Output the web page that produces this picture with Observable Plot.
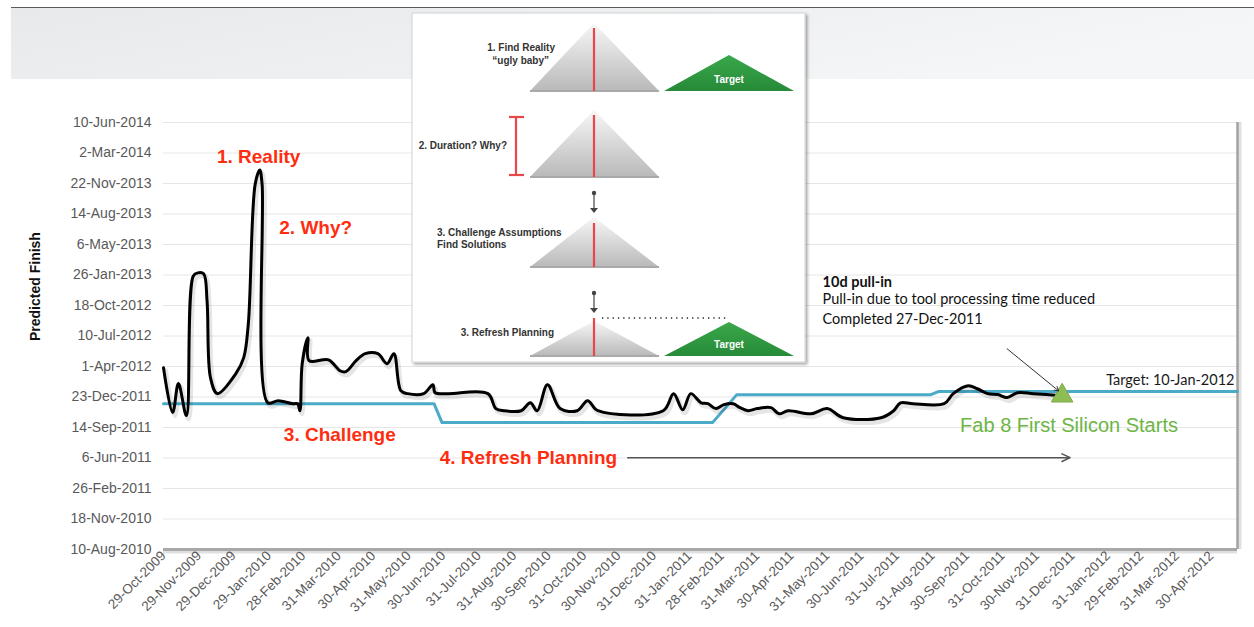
<!DOCTYPE html>
<html>
<head>
<meta charset="utf-8">
<script src="https://cdn.jsdelivr.net/npm/d3@7"></script>
<script src="https://cdn.jsdelivr.net/npm/@observablehq/plot@0.6"></script>
<style>
  html, body { margin: 0; padding: 0; background: #fff; }
  #chart { width: 1254px; height: 627px; position: relative; overflow: hidden; }
</style>
</head>
<body>
<div id="chart"></div>
<script>
// ---------- data ----------
const xTickLabels = ["2009-10-29","2009-11-29","2009-12-29","2010-01-29","2010-02-28","2010-03-31","2010-04-30","2010-05-31","2010-06-30","2010-07-31","2010-08-31","2010-09-30","2010-10-31","2010-11-30","2010-12-31","2011-01-31","2011-02-28","2011-03-31","2011-04-30","2011-05-31","2011-06-30","2011-07-31","2011-08-31","2011-09-30","2011-10-31","2011-11-30","2011-12-31","2012-01-31","2012-02-29","2012-03-31","2012-04-30"];
const yTickLabels = ["2010-08-10","2010-11-18","2011-02-26","2011-06-06","2011-09-14","2011-12-23","2012-04-01","2012-07-10","2012-10-18","2013-01-26","2013-05-06","2013-08-14","2013-11-22","2014-03-02","2014-06-10"];
const xDomain = ["2009-10-29", "2012-05-23"];
const yDomain = ["2010-08-10", "2014-06-10"];

// actual (status) dates and predicted finish
const statusDates = ["2009-10-29","2009-11-06","2009-11-11","2009-11-18","2009-11-24","2009-11-28","2009-12-03","2009-12-06","2009-12-09","2009-12-15","2009-12-31","2010-01-07","2010-01-11","2010-01-17","2010-01-21","2010-01-23","2010-01-28","2010-02-06","2010-02-19","2010-02-23","2010-02-25","2010-02-27","2010-03-04","2010-03-05","2010-03-22","2010-04-01","2010-04-06","2010-04-15","2010-04-23","2010-05-04","2010-05-12","2010-05-18","2010-05-24","2010-05-30","2010-06-13","2010-06-21","2010-06-23","2010-07-04","2010-08-08","2010-08-15","2010-08-22","2010-09-06","2010-09-14","2010-09-20","2010-09-29","2010-10-10","2010-10-25","2010-11-03","2010-11-12","2011-01-08","2011-01-17","2011-01-25","2011-02-01","2011-02-10","2011-02-16","2011-02-23","2011-03-02","2011-03-10","2011-03-16","2011-03-23","2011-03-31","2011-04-12","2011-04-19","2011-04-27","2011-05-17","2011-05-31","2011-06-14","2011-07-17","2011-07-28","2011-08-03","2011-08-14","2011-09-10","2011-09-18","2011-10-01","2011-10-09","2011-10-18","2011-10-27","2011-11-04","2011-11-13","2011-11-27","2011-12-22"];
const predictedFinish = ["2012-03-28","2011-11-02","2012-02-05","2011-10-23","2013-01-23","2013-02-02","2013-01-30","2012-11-02","2012-02-24","2012-01-03","2012-03-08","2012-04-30","2012-08-19","2013-11-20","2014-01-05","2013-11-20","2011-12-04","2011-12-11","2011-12-01","2011-12-01","2011-11-08","2012-04-10","2012-07-04","2012-04-20","2012-04-23","2012-03-18","2012-03-15","2012-04-20","2012-05-13","2012-05-13","2012-04-10","2012-05-13","2012-01-13","2012-01-03","2012-01-03","2012-02-01","2012-01-06","2012-01-03","2012-01-03","2011-11-15","2011-11-08","2011-11-08","2011-12-04","2011-11-08","2012-02-01","2011-11-15","2011-11-08","2011-12-11","2011-11-08","2011-11-08","2012-01-03","2011-11-11","2012-01-03","2011-12-04","2011-12-01","2011-11-15","2011-11-28","2011-12-01","2011-11-18","2011-11-08","2011-11-15","2011-11-18","2011-10-29","2011-11-08","2011-10-29","2011-11-15","2011-10-16","2011-10-16","2011-11-08","2011-12-04","2011-12-01","2011-12-01","2012-01-03","2012-01-29","2012-01-19","2012-01-03","2011-12-31","2011-12-21","2012-01-06","2012-01-03","2011-12-27"];

// target line
const targetX = ["2009-10-29","2010-06-22","2010-06-29","2011-02-20","2011-03-13","2011-08-29","2011-09-05","2012-05-23"];
const targetY = ["2011-12-01","2011-12-01","2011-09-30","2011-09-30","2011-12-30","2011-12-30","2012-01-10","2012-01-10"];

// milestone
const milestoneX = ["2011-12-22"];
const milestoneY = ["2011-12-27"];

// annotations (x date, y date)
const redLabels = ["1. Reality", "2. Why?", "3. Challenge", "4. Refresh Planning"];
const redLabelX = ["2010-01-20", "2010-02-07", "2010-02-11", "2010-06-27"];
const redLabelY = ["2014-02-17", "2013-06-29", "2011-08-22", "2011-06-07"];

const noteLines = ["10d pull-in", "Pull-in due to tool processing time reduced", "Completed 27-Dec-2011"];
const noteX = "2011-05-27";
const noteY = ["2013-01-03", "2012-11-06", "2012-09-04"];

const parse = d3.utcParse("%Y-%m-%d");
const fmt = d3.utcFormat("%-d-%b-%Y");

const series = statusDates.map((d, i) => ({x: parse(d), y: parse(predictedFinish[i])}));
const target = targetX.map((d, i) => ({x: parse(d), y: parse(targetY[i])}));
const xTicks = xTickLabels.map(parse);
const yTicks = yTickLabels.map(parse);
const reds = redLabels.map((t, i) => ({t, x: parse(redLabelX[i]), y: parse(redLabelY[i])}));
const notes = noteLines.map((t, i) => ({t, x: parse(noteX), y: parse(noteY[i])}));

const RED = "#ff2d10";
const font = "'Liberation Sans', Arial, Helvetica, sans-serif";
const noteFont = "Lato, 'Open Sans', sans-serif";

const chart = Plot.plot({
  width: 1254,
  height: 627,
  marginLeft: 163,
  marginRight: 17,
  marginTop: 122,
  marginBottom: 78,
  style: {fontFamily: font, background: "transparent", overflow: "visible"},
  x: {type: "utc", domain: xDomain.map(parse)},
  y: {type: "utc", domain: yDomain.map(parse)},
  marks: [
    Plot.gridY(yTicks, {stroke: "#e6e6e6", strokeOpacity: 1}),
    // axis line with shadow
    Plot.ruleY([parse(yDomain[0])], {stroke: "#000", strokeOpacity: 0.12, strokeWidth: 4, dy: 2}),
    Plot.ruleY([parse(yDomain[0])], {stroke: "#a8a8a8", strokeWidth: 3}),
    Plot.ruleX([parse(xDomain[1])], {stroke: "#000", strokeOpacity: 0.12, strokeWidth: 4, dx: 2}),
    Plot.ruleX([parse(xDomain[1])], {stroke: "#a3a3a3", strokeWidth: 2.5}),
    Plot.axisY(yTicks, {tickFormat: fmt, tickSize: 0, tickPadding: 12, fontSize: 14, fill: "#595959", label: null}),
    Plot.axisX(xTicks, {tickFormat: fmt, tickRotate: -45, tickSize: 0, tickPadding: 4, fontSize: 13.5, fill: "#595959", label: null}),
    Plot.text(["Predicted Finish"], {frameAnchor: "left", dx: -128, dy: 5, rotate: -90, fontSize: 14, fontWeight: "bold", fill: "#111"}),
    // target line
    Plot.line(target, {x: "x", y: "y", stroke: "#4aaac8", strokeWidth: 3}),
    // predicted finish with soft shadow
    Plot.line(series, {x: "x", y: "y", stroke: "#000", strokeOpacity: 0.1, strokeWidth: 5, dx: 2, dy: 3, curve: "catmull-rom"}),
    Plot.line(series, {x: "x", y: "y", stroke: "#000", strokeWidth: 3, curve: "catmull-rom"}),
    // milestone triangle
    Plot.dot(milestoneX.map((d, i) => ({x: parse(d), y: parse(milestoneY[i])})), {x: "x", y: "y", symbol: "triangle", r: 8, fill: "#8fbd55", stroke: "#7aa843", strokeWidth: 1}),
    // red step labels
    Plot.text(reds.slice(0, 1), {x: "x", y: "y", text: "t", textAnchor: "middle", fill: RED, fontSize: 19, fontWeight: "bold"}),
    Plot.text(reds.slice(1), {x: "x", y: "y", text: "t", textAnchor: "start", fill: RED, fontSize: 19, fontWeight: "bold"}),
    Plot.arrow([{x1: parse("2010-12-08"), x2: parse("2011-12-29"), y: parse(redLabelY[3])}], {x1: "x1", x2: "x2", y1: "y", y2: "y", stroke: "#555", strokeWidth: 1.5, headLength: 9, headAngle: 50}),
    Plot.text(["Fab 8 First Silicon Starts"], {x: parse("2011-09-24"), y: parse("2011-09-20"), textAnchor: "start", fill: "#6cb544", fontSize: 20}),
    Plot.text(["Target: 10-Jan-2012"], {x: parse(xDomain[1]), y: parse("2012-02-17"), dx: -3, textAnchor: "end", fill: "#1a1a1a", fontSize: 14.5, fontFamily: noteFont}),
    Plot.text(notes.slice(0, 1), {x: "x", y: "y", text: "t", fontWeight: "bold", textAnchor: "start", fill: "#111", fontSize: 14.5, fontFamily: noteFont}),
    Plot.text(notes.slice(1), {x: "x", y: "y", text: "t", textAnchor: "start", fill: "#111", fontSize: 14.5, fontFamily: noteFont}),
    Plot.arrow([{x1: parse("2011-11-04"), y1: parse("2012-05-29"), x2: parse("2011-12-19"), y2: parse("2012-01-12")}], {x1: "x1", y1: "y1", x2: "x2", y2: "y2", stroke: "#333", strokeWidth: 1, headLength: 7})
  ]
});

document.getElementById("chart").appendChild(chart);

// ---------- decorative header band and inset illustration ----------
const svg = d3.select(chart);
const defs = svg.append("defs");
const bandGrad = defs.append("linearGradient").attr("id", "bandGrad").attr("x1", 0).attr("x2", 1).attr("y1", 0).attr("y2", 0.3);
bandGrad.append("stop").attr("offset", "0%").attr("stop-color", "#e7e9eb");
bandGrad.append("stop").attr("offset", "100%").attr("stop-color", "#f5f6f7");
const grayGrad = defs.append("linearGradient").attr("id", "grayGrad").attr("x1", 0).attr("x2", 0).attr("y1", 0).attr("y2", 1);
grayGrad.append("stop").attr("offset", "0%").attr("stop-color", "#f7f7f7");
grayGrad.append("stop").attr("offset", "100%").attr("stop-color", "#b9b9b9");
const greenGrad = defs.append("linearGradient").attr("id", "greenGrad").attr("x1", 0).attr("x2", 0).attr("y1", 0).attr("y2", 1);
greenGrad.append("stop").attr("offset", "0%").attr("stop-color", "#3aa84a");
greenGrad.append("stop").attr("offset", "100%").attr("stop-color", "#268a38");
const shadow = defs.append("filter").attr("id", "boxShadow").attr("x", "-5%").attr("y", "-5%").attr("width", "115%").attr("height", "115%");
shadow.append("feDropShadow").attr("dx", 2).attr("dy", 2).attr("stdDeviation", 1.5).attr("flood-color", "#000").attr("flood-opacity", 0.35);

const deco = svg.append("g");
deco.append("rect").attr("x", 11).attr("y", 8).attr("width", 1243).attr("height", 71).attr("fill", "url(#bandGrad)");
deco.append("line").attr("x1", 11).attr("x2", 1254).attr("y1", 7.5).attr("y2", 7.5).attr("stroke", "#5a5a5a").attr("stroke-width", 1.2);

const inset = deco.append("g");
inset.append("rect").attr("x", 412).attr("y", 13).attr("width", 393).attr("height", 349)
  .attr("fill", "#fff").attr("stroke", "#d4d4d4").attr("filter", "url(#boxShadow)");

const rows = [
  {apex: 23, base: 91, rTop: 28, target: true},
  {apex: 110, base: 177, rTop: 115},
  {apex: 217, base: 267, rTop: 223},
  {apex: 321, base: 356, rTop: 318, target: true}
];
rows.forEach(r => {
  inset.append("path").attr("d", `M530,${r.base} L594,${r.apex} L659,${r.base} Z`).attr("fill", "url(#grayGrad)");
  inset.append("line").attr("x1", 530).attr("x2", 659).attr("y1", r.base).attr("y2", r.base).attr("stroke", "#a9a9a9").attr("stroke-width", 2);
  inset.append("line").attr("x1", 594).attr("x2", 594).attr("y1", r.rTop).attr("y2", r.base).attr("stroke", "#e8474a").attr("stroke-width", 2.2);
  if (r.target) {
    const gApex = r.apex === 23 ? 55 : 322;
    inset.append("path").attr("d", `M664,${r.base} L729,${gApex} L794,${r.base} Z`).attr("fill", "url(#greenGrad)");
    inset.append("text").attr("x", 729).attr("y", r.base - 8).attr("text-anchor", "middle")
      .attr("font-family", font).attr("font-size", 10).attr("font-weight", "bold").attr("fill", "#fff").text("Target");
  }
});
// I-beam
inset.append("line").attr("x1", 516).attr("x2", 516).attr("y1", 117).attr("y2", 175).attr("stroke", "#e8474a").attr("stroke-width", 2.2);
inset.append("line").attr("x1", 509).attr("x2", 524).attr("y1", 117).attr("y2", 117).attr("stroke", "#e8474a").attr("stroke-width", 2.2);
inset.append("line").attr("x1", 509).attr("x2", 524).attr("y1", 175).attr("y2", 175).attr("stroke", "#e8474a").attr("stroke-width", 2.2);
// small arrows
[[193, 213], [293, 313]].forEach(([a, b]) => {
  inset.append("circle").attr("cx", 594).attr("cy", a).attr("r", 2.2).attr("fill", "#444");
  inset.append("line").attr("x1", 594).attr("x2", 594).attr("y1", a).attr("y2", b - 4).attr("stroke", "#444").attr("stroke-width", 1.2);
  inset.append("path").attr("d", `M590,${b - 5} L598,${b - 5} L594,${b} Z`).attr("fill", "#444");
});
// dotted line
inset.append("line").attr("x1", 602).attr("x2", 726).attr("y1", 318).attr("y2", 318).attr("stroke", "#222").attr("stroke-width", 1.6).attr("stroke-dasharray", "1.3,4");
// inset texts
const insetText = (x, y, t, anchor) => inset.append("text").attr("x", x).attr("y", y).attr("text-anchor", anchor)
  .attr("font-family", font).attr("font-size", 10).attr("font-weight", "bold").attr("fill", "#333").text(t);
insetText(555, 51, "1. Find Reality", "end");
insetText(549, 64, "\u201cugly baby\u201d", "end");
insetText(507, 149, "2. Duration? Why?", "end");
insetText(437, 236, "3. Challenge Assumptions", "start");
insetText(437, 248, "Find Solutions", "start");
insetText(554, 336, "3. Refresh Planning", "end");
</script>
</body>
</html>
